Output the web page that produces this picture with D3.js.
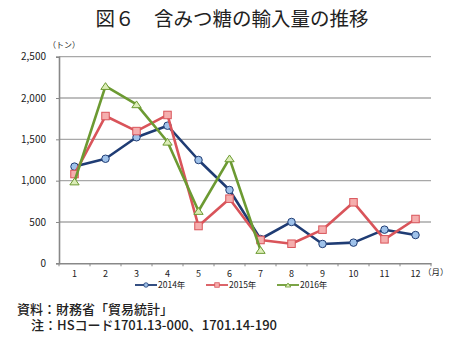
<!DOCTYPE html>
<html>
<head>
<meta charset="utf-8">
<script src="https://cdn.jsdelivr.net/npm/d3@7"></script>
<style>
  html, body { margin: 0; padding: 0; background: #fff; }
  svg { display: block; }
  text { font-family: "Noto Sans CJK JP", "Noto Sans", sans-serif; fill: #222; }
</style>
</head>
<body>
<svg id="chart" width="452" height="346"></svg>
<script>
// 月別輸入量（トン）
const months = [1, 2, 3, 4, 5, 6, 7, 8, 9, 10, 11, 12];
const values2014 = [1170, 1265, 1525, 1665, 1250, 887, 294, 500, 234, 250, 407, 342];
const values2015 = [1080, 1782, 1600, 1795, 451, 782, 282, 237, 407, 738, 290, 536];
const values2016 = [990, 2145, 1924, 1471, 633, 1270, 161];
const yTicks = [0, 500, 1000, 1500, 2000, 2500];
const seriesNames = ["2014年", "2015年", "2016年"];

const series = [
  { name: seriesNames[0], values: values2014, stroke: "#1f3c74", fill: "#9fc2ea", shape: "circle" },
  { name: seriesNames[1], values: values2015, stroke: "#d9545a", fill: "#f5aeae", shape: "square" },
  { name: seriesNames[2], values: values2016, stroke: "#6c9a32", fill: "#dcedb8", shape: "triangle" }
];

const svg = d3.select("#chart");
const plotLeft = 59, plotRight = 431, plotTop = 56.7, plotBottom = 263.3;

const x = d3.scaleBand().domain(months).range([plotLeft, plotRight]);
const y = d3.scaleLinear().domain([0, 2500]).range([plotBottom, plotTop]);
const cx = m => x(m) + x.bandwidth() / 2;

// タイトル
svg.append("text")
  .attr("x", 232).attr("y", 26)
  .attr("text-anchor", "middle")
  .attr("font-size", 19.5)
  .attr("font-weight", 400)
  .text("図６　含みつ糖の輸入量の推移");

// 目盛線
svg.append("g")
  .selectAll("line")
  .data(yTicks.filter(d => d > 0))
  .join("line")
  .attr("x1", plotLeft).attr("x2", plotRight)
  .attr("y1", d => y(d)).attr("y2", d => y(d))
  .attr("stroke", "#a8a8a8").attr("stroke-width", 1.3);

// 縦軸
const yAxis = svg.append("g")
  .attr("transform", `translate(${plotLeft},0)`)
  .call(d3.axisLeft(y).tickValues(yTicks).tickSize(3).tickFormat(d3.format(",")));
yAxis.select(".domain").attr("stroke", "#888").attr("stroke-width", 1.6);
yAxis.selectAll(".tick line").attr("stroke", "#888");
yAxis.selectAll(".tick text")
  .attr("x", -13)
  .attr("font-size", 10)
  .attr("font-family", "'Liberation Sans', sans-serif")
  .attr("fill", "#333");

svg.append("text")
  .attr("x", 64).attr("y", 48)
  .attr("text-anchor", "middle")
  .attr("font-size", 8)
  .text("（トン）");

// 横軸
const xAxis = svg.append("g")
  .attr("transform", `translate(0,${plotBottom})`)
  .call(d3.axisBottom(x).tickSize(0).tickPadding(7));
xAxis.select(".domain").attr("stroke", "#888").attr("stroke-width", 1.4);
xAxis.selectAll(".tick text")
  .attr("font-size", 9)
  .attr("font-family", "'Liberation Sans', sans-serif")
  .attr("fill", "#333");

// 区切り目盛
svg.append("g")
  .selectAll("line")
  .data(months.concat([13]))
  .join("line")
  .attr("x1", (d, i) => plotLeft + i * x.step())
  .attr("x2", (d, i) => plotLeft + i * x.step())
  .attr("y1", plotBottom).attr("y2", plotBottom + 3)
  .attr("stroke", "#888");

svg.append("text")
  .attr("x", 423).attr("y", 275)
  .attr("font-size", 8.5)
  .text("（月）");

// マーカー描画
function marker(sel, shape, size) {
  if (shape === "circle") {
    sel.append("circle").attr("r", size * 0.5);
  } else if (shape === "square") {
    sel.append("rect")
      .attr("x", -size * 0.5).attr("y", -size * 0.5)
      .attr("width", size).attr("height", size);
  } else {
    const h = size * 0.45;
    sel.append("path").attr("d", `M0,${-h}L${size * 0.62},${h}L${-size * 0.62},${h}Z`);
  }
}

const line = d3.line().x((d, i) => cx(months[i])).y(d => y(d));

series.forEach(s => {
  svg.append("path")
    .datum(s.values)
    .attr("d", line)
    .attr("fill", "none")
    .attr("stroke", s.stroke)
    .attr("stroke-width", 2.6)
    .attr("stroke-linejoin", "round");
  s.values.forEach((v, i) => {
    const g = svg.append("g")
      .attr("transform", `translate(${cx(months[i])},${y(v)})`)
      .attr("fill", s.fill).attr("stroke", s.stroke).attr("stroke-width", 1);
    marker(g, s.shape, 7.5);
  });
});

// 凡例
const legendX = [135, 206, 277];
series.forEach((s, i) => {
  const g = svg.append("g").attr("transform", `translate(${legendX[i]},285)`);
  g.append("line").attr("x1", 0).attr("x2", 22).attr("stroke", s.stroke).attr("stroke-width", 1.8);
  const m = g.append("g").attr("transform", "translate(11,0)")
    .attr("fill", s.fill).attr("stroke", s.stroke).attr("stroke-width", 0.8);
  marker(m, s.shape, 4.5);
  g.append("text").attr("x", 23).attr("y", 3)
    .attr("font-size", 8.5)
    .text(s.name);
});

// 注記
svg.append("text")
  .attr("x", 17).attr("y", 314)
  .attr("font-size", 13)
  .attr("font-weight", 500)
  .text("資料：財務省「貿易統計」");
svg.append("text")
  .attr("x", 31).attr("y", 330)
  .attr("font-size", 13)
  .attr("font-weight", 500)
  .text("注：HSコード1701.13-000、1701.14-190");
</script>
</body>
</html>
